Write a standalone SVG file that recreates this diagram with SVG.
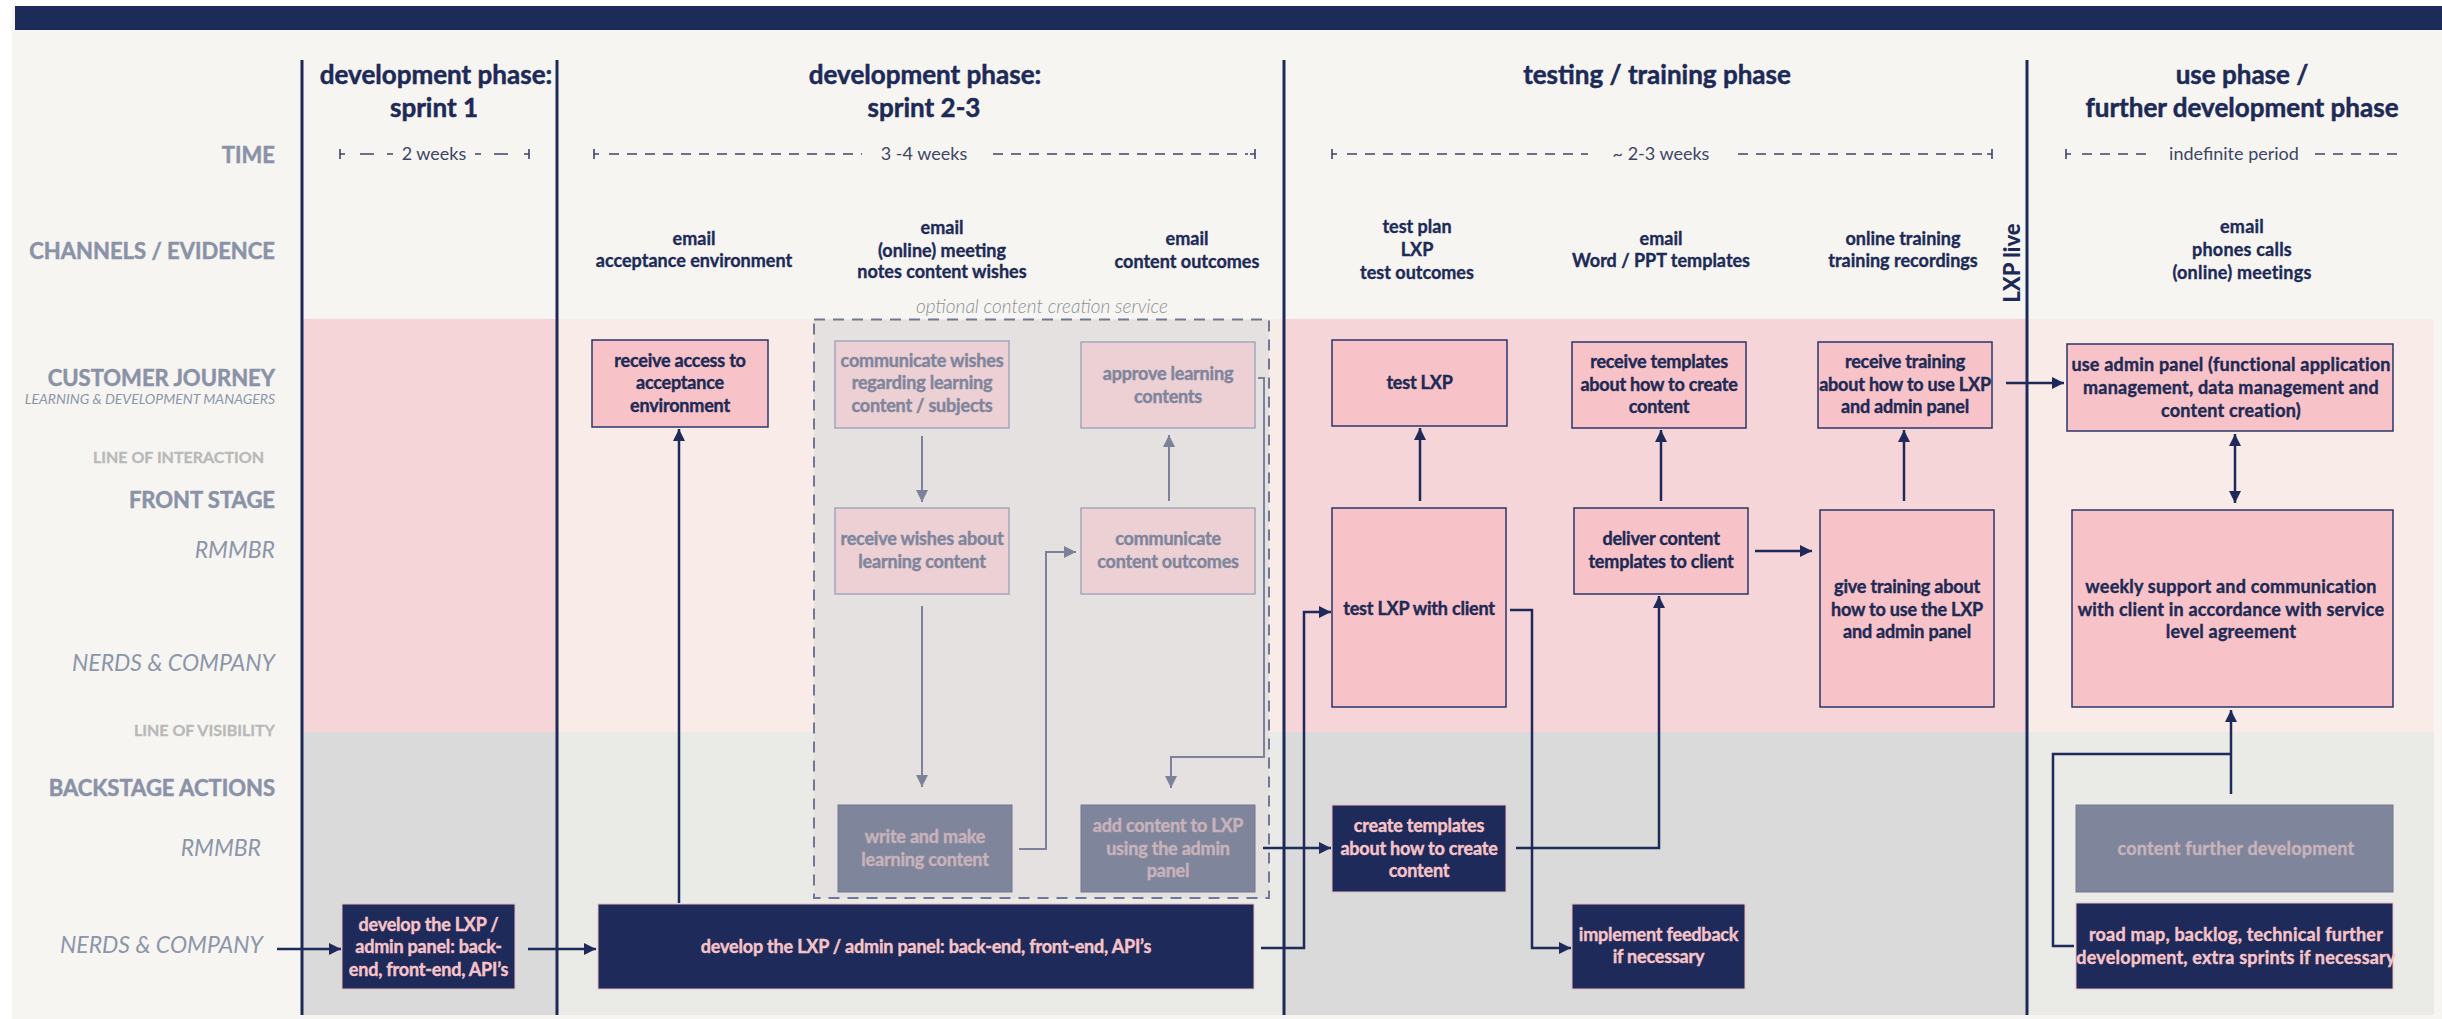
<svg xmlns="http://www.w3.org/2000/svg" width="2442" height="1019" viewBox="0 0 2442 1019">
  <defs>
    <style>
      text { font-family: Lato, "Liberation Sans", sans-serif; }
      .title { font-weight: 700; font-size: 26px; fill: #1d2a57; stroke: #1d2a57; stroke-width: 0.5px; text-anchor: middle; }
      .lab { font-weight: 700; font-size: 22px; fill: #8a92a7; stroke: #8a92a7; stroke-width: 0.5px; text-anchor: end; }
      .labs { font-weight: 700; font-size: 16px; fill: #b9b9b9; stroke: #b9b9b9; stroke-width: 0.3px; text-anchor: end; }
      .labi { font-style: italic; font-weight: 400; font-size: 23px; fill: #8d95a9; text-anchor: end; }
      .labsi { font-style: italic; font-weight: 400; font-size: 14px; fill: #8d95a9; text-anchor: end; }
      .ch { font-weight: 700; font-size: 18px; fill: #1d2a57; stroke: #1d2a57; stroke-width: 0.35px; text-anchor: middle; }
      .tm { font-weight: 400; font-size: 18px; fill: #3d4566; text-anchor: middle; }
      .opt { font-style: italic; font-weight: 300; font-size: 19px; fill: #8e8f96; text-anchor: middle; }
      .live { font-weight: 900; font-size: 22px; fill: #1d2a57; text-anchor: middle; }
      .bx { font-weight: 700; font-size: 18px; text-anchor: middle; letter-spacing: -0.2px; stroke-width: 0.4px; }
      .wide { letter-spacing: 0.2px; }
      .nv rect { fill: #1e2a5a; stroke: #efb9c0; stroke-width: 1; }
      .nv text { fill: #f6c4c8; stroke: #f6c4c8; }
      .pk rect { fill: #f8c3c8; stroke: #2a3668; stroke-width: 1.5; }
      .pk text { fill: #1e2a55; stroke: #1e2a55; }
      .fp rect { fill: #ecd0d3; stroke: #a4a7ba; stroke-width: 1.5; }
      .fp text { fill: #7f859c; stroke: #7f859c; }
      .gb rect { fill: #7f869b; stroke: #6f7890; stroke-width: 1; }
      .gb text { fill: #c8b2bb; stroke: #c8b2bb; }
      .phase { stroke: #1d2a57; stroke-width: 3; }
      .tl { stroke: #3d4566; stroke-width: 1.6; fill: none; }
      .tld { stroke: #3d4566; stroke-width: 1.6; fill: none; stroke-dasharray: 10 8; }
      .c { fill: none; stroke: #1e2a5a; stroke-width: 2.5; }
      .cf { fill: none; stroke: #7b8299; stroke-width: 2; }
    </style>
    <marker id="ah" viewBox="0 0 10 10" refX="10" refY="5" markerWidth="12" markerHeight="12" markerUnits="userSpaceOnUse" orient="auto-start-reverse">
      <path d="M0,0 L10,5 L0,10 z" fill="#1e2a5a"/>
    </marker>
    <marker id="ahf" viewBox="0 0 10 10" refX="10" refY="5" markerWidth="12" markerHeight="12" markerUnits="userSpaceOnUse" orient="auto-start-reverse">
      <path d="M0,0 L10,5 L0,10 z" fill="#7b8299"/>
    </marker>
  </defs>

  <!-- page -->
  <rect x="0" y="0" width="2442" height="1019" fill="#ffffff"/>
  <rect x="12" y="6" width="2430" height="1013" fill="#f6f5f2"/>
  <rect x="15" y="6" width="2427" height="24" fill="#1d2b58"/>

  <!-- swimlane bands per phase column -->
  <rect x="302" y="319" width="255" height="413" fill="#f6d5d9"/>
  <rect x="557" y="319" width="727" height="413" fill="#f9ebe8"/>
  <rect x="1284" y="319" width="743" height="413" fill="#f6d5d9"/>
  <rect x="2027" y="319" width="407" height="413" fill="#f9ebe8"/>
  <rect x="302" y="732" width="255" height="283" fill="#d9dad9"/>
  <rect x="557" y="732" width="727" height="283" fill="#eaeae6"/>
  <rect x="1284" y="732" width="743" height="283" fill="#d9dad9"/>
  <rect x="2027" y="732" width="407" height="283" fill="#eaeae6"/>

  <!-- optional content creation area -->
  <rect x="814" y="319.5" width="455" height="578.5" fill="#e4e1e0" stroke="#6f7894" stroke-width="2" stroke-dasharray="11 8"/>
  <text class="opt" x="1042" y="313">optional content creation service</text>

  <!-- row labels -->
  <text class="lab" x="275" y="163">TIME</text>
  <text class="lab" x="275" y="259">CHANNELS / EVIDENCE</text>
  <text class="lab" x="275" y="386">CUSTOMER JOURNEY</text>
  <text class="labsi" x="275" y="404">LEARNING &amp; DEVELOPMENT MANAGERS</text>
  <text class="labs" x="264" y="463">LINE OF INTERACTION</text>
  <text class="lab" x="275" y="508">FRONT STAGE</text>
  <text class="labi" x="275" y="558">RMMBR</text>
  <text class="labi" x="275" y="671">NERDS &amp; COMPANY</text>
  <text class="labs" x="275" y="736">LINE OF VISIBILITY</text>
  <text class="lab" x="275" y="796">BACKSTAGE ACTIONS</text>
  <text class="labi" x="261" y="856">RMMBR</text>
  <text class="labi" x="263" y="953">NERDS &amp; COMPANY</text>

  <!-- phase headers -->
  <text class="title" x="436" y="84">development phase:</text>
  <text class="title" x="434" y="117">sprint 1</text>
  <text class="title" x="925" y="84">development phase:</text>
  <text class="title" x="924" y="117">sprint 2-3</text>
  <text class="title" x="1657" y="84">testing / training phase</text>
  <text class="title" x="2242" y="84">use phase /</text>
  <text class="title" x="2242" y="117">further development phase</text>

  <!-- time spans -->
  <g id="time-sprint1">
    <path class="tl" d="M340,149 V159 M340,154 H345 M360,154 H374 M387,154 H393 M475,154 H481 M494,154 H508 M529,149 V159 M524,154 H529"/>
    <text class="tm" x="434" y="160">2 weeks</text>
  </g>
  <g id="time-sprint23">
    <path class="tl" d="M594,149 V159 M594,154 H599 M1255,149 V159 M1250,154 H1255"/>
    <path class="tld" d="M609,154 H862 M993,154 H1248"/>
    <text class="tm" x="924" y="160">3 -4 weeks</text>
  </g>
  <g id="time-testing">
    <path class="tl" d="M1332,149 V159 M1332,154 H1337 M1992,149 V159 M1987,154 H1992"/>
    <path class="tld" d="M1347,154 H1588 M1738,154 H1985"/>
    <text class="tm" x="1661" y="160">~ 2-3 weeks</text>
  </g>
  <g id="time-use">
    <path class="tl" d="M2066,149 V159 M2066,154 H2071"/>
    <path class="tld" d="M2082,154 H2152 M2315,154 H2403"/>
    <text class="tm" x="2234" y="160">indefinite period</text>
  </g>

  <!-- channels / evidence -->
  <text class="ch" x="694" y="245">email</text>
  <text class="ch" x="694" y="267">acceptance environment</text>
  <text class="ch" x="942" y="234">email</text>
  <text class="ch" x="942" y="257">(online) meeting</text>
  <text class="ch" x="942" y="278">notes content wishes</text>
  <text class="ch" x="1187" y="245">email</text>
  <text class="ch" x="1187" y="268">content outcomes</text>
  <text class="ch" x="1417" y="233">test plan</text>
  <text class="ch" x="1417" y="256">LXP</text>
  <text class="ch" x="1417" y="279">test outcomes</text>
  <text class="ch" x="1661" y="245">email</text>
  <text class="ch" x="1661" y="267">Word / PPT templates</text>
  <text class="ch" x="1903" y="245">online training</text>
  <text class="ch" x="1903" y="267">training recordings</text>
  <text class="ch wide" x="2242" y="233">email</text>
  <text class="ch wide" x="2242" y="256">phones calls</text>
  <text class="ch wide" x="2242" y="279">(online) meetings</text>
  <text class="live" transform="translate(2020,263) rotate(-90)">LXP live</text>

  <!-- phase separators -->
  <line class="phase" x1="302" y1="60" x2="302" y2="1015"/>
  <line class="phase" x1="557" y1="60" x2="557" y2="1015"/>
  <line class="phase" x1="1284" y1="60" x2="1284" y2="1015"/>
  <line class="phase" x1="2027" y1="60" x2="2027" y2="1015"/>

  <!-- connectors -->
  <g id="connectors">
    <path class="c" d="M277,949 H341" marker-end="url(#ah)"/>
    <path class="c" d="M528,949 H596" marker-end="url(#ah)"/>
    <path class="c" d="M679,903 V429" marker-end="url(#ah)"/>
    <path class="cf" d="M922,436 V502" marker-end="url(#ahf)"/>
    <path class="cf" d="M922,606 V787" marker-end="url(#ahf)"/>
    <path class="cf" d="M1019,849 H1046 V552 H1076" marker-end="url(#ahf)"/>
    <path class="cf" d="M1169,501 V435" marker-end="url(#ahf)"/>
    <path class="cf" d="M1258,378 H1264 V757 H1171 V788" marker-end="url(#ahf)"/>
    <path class="c" d="M1263,848 H1331" marker-end="url(#ah)"/>
    <path class="c" d="M1261,948 H1304 V612 H1331" marker-end="url(#ah)"/>
    <path class="c" d="M1420,501 V428" marker-end="url(#ah)"/>
    <path class="c" d="M1510,610 H1532 V948 H1571" marker-end="url(#ah)"/>
    <path class="c" d="M1516,848 H1659 V596" marker-end="url(#ah)"/>
    <path class="c" d="M1661,501 V430" marker-end="url(#ah)"/>
    <path class="c" d="M1755,551 H1812" marker-end="url(#ah)"/>
    <path class="c" d="M1904,501 V430" marker-end="url(#ah)"/>
    <path class="c" d="M2006,383 H2064" marker-end="url(#ah)"/>
    <path class="c" d="M2235,434 V503" marker-start="url(#ah)" marker-end="url(#ah)"/>
    <path class="c" d="M2231,794 V710" marker-end="url(#ah)"/>
    <path class="c" d="M2074,946 H2053 V754 H2231"/>
  </g>

  <!-- nodes: customer journey -->
  <g id="receive-access" class="pk">
    <rect x="592" y="340" width="176" height="87"/>
    <text class="bx" x="680" y="367">receive access to</text>
    <text class="bx" x="680" y="389">acceptance</text>
    <text class="bx" x="680" y="412">environment</text>
  </g>
  <g id="communicate-wishes" class="fp">
    <rect x="835" y="341" width="174" height="87"/>
    <text class="bx" x="922" y="367">communicate wishes</text>
    <text class="bx" x="922" y="389">regarding learning</text>
    <text class="bx" x="922" y="412">content / subjects</text>
  </g>
  <g id="approve-contents" class="fp">
    <rect x="1081" y="342" width="174" height="86"/>
    <text class="bx" x="1168" y="380">approve learning</text>
    <text class="bx" x="1168" y="403">contents</text>
  </g>
  <g id="test-lxp" class="pk">
    <rect x="1332" y="340" width="175" height="86"/>
    <text class="bx" x="1419.5" y="389">test LXP</text>
  </g>
  <g id="receive-templates" class="pk">
    <rect x="1572" y="342" width="174" height="86"/>
    <text class="bx" x="1659" y="368">receive templates</text>
    <text class="bx" x="1659" y="391">about how to create</text>
    <text class="bx" x="1659" y="413">content</text>
  </g>
  <g id="receive-training" class="pk">
    <rect x="1818" y="342" width="174" height="86"/>
    <text class="bx" x="1905" y="368">receive training</text>
    <text class="bx" x="1905" y="391">about how to use LXP</text>
    <text class="bx" x="1905" y="413">and admin panel</text>
  </g>
  <g id="use-admin-panel" class="pk">
    <rect x="2067" y="344" width="326" height="87"/>
    <text class="bx wide" x="2231" y="371">use admin panel (functional application</text>
    <text class="bx wide" x="2231" y="394">management, data management and</text>
    <text class="bx wide" x="2231" y="417">content creation)</text>
  </g>

  <!-- nodes: front stage -->
  <g id="receive-wishes" class="fp">
    <rect x="835" y="508" width="174" height="86"/>
    <text class="bx" x="922" y="545">receive wishes about</text>
    <text class="bx" x="922" y="568">learning content</text>
  </g>
  <g id="communicate-outcomes" class="fp">
    <rect x="1081" y="508" width="174" height="86"/>
    <text class="bx" x="1168" y="545">communicate</text>
    <text class="bx" x="1168" y="568">content outcomes</text>
  </g>
  <g id="test-lxp-client" class="pk">
    <rect x="1332" y="508" width="174" height="199"/>
    <text class="bx" x="1419" y="615">test LXP with client</text>
  </g>
  <g id="deliver-templates" class="pk">
    <rect x="1574" y="508" width="174" height="86"/>
    <text class="bx" x="1661" y="545">deliver content</text>
    <text class="bx" x="1661" y="568">templates to client</text>
  </g>
  <g id="give-training" class="pk">
    <rect x="1820" y="510" width="174" height="197"/>
    <text class="bx" x="1907" y="593">give training about</text>
    <text class="bx" x="1907" y="616">how to use the LXP</text>
    <text class="bx" x="1907" y="638">and admin panel</text>
  </g>
  <g id="weekly-support" class="pk">
    <rect x="2072" y="510" width="321" height="197"/>
    <text class="bx wide" x="2231" y="593">weekly support and communication</text>
    <text class="bx wide" x="2231" y="616">with client in accordance with service</text>
    <text class="bx wide" x="2231" y="638">level agreement</text>
  </g>

  <!-- nodes: backstage -->
  <g id="write-content" class="gb">
    <rect x="838" y="805" width="174" height="87"/>
    <text class="bx" x="925" y="843">write and make</text>
    <text class="bx" x="925" y="866">learning content</text>
  </g>
  <g id="add-content" class="gb">
    <rect x="1081" y="805" width="174" height="87"/>
    <text class="bx" x="1168" y="832">add content to LXP</text>
    <text class="bx" x="1168" y="855">using the admin</text>
    <text class="bx" x="1168" y="877">panel</text>
  </g>
  <g id="create-templates" class="nv">
    <rect x="1332" y="805" width="174" height="87"/>
    <text class="bx" x="1419" y="832">create templates</text>
    <text class="bx" x="1419" y="855">about how to create</text>
    <text class="bx" x="1419" y="877">content</text>
  </g>
  <g id="content-further-development" class="gb">
    <rect x="2076" y="805" width="317" height="87"/>
    <text class="bx wide" x="2236" y="855">content further development</text>
  </g>
  <g id="develop-sprint1" class="nv">
    <rect x="342" y="904" width="173" height="85"/>
    <text class="bx" x="428.5" y="931">develop the LXP /</text>
    <text class="bx" x="428.5" y="953">admin panel: back-</text>
    <text class="bx" x="428.5" y="976">end, front-end, API’s</text>
  </g>
  <g id="develop-sprint23" class="nv">
    <rect x="598" y="904" width="656" height="85"/>
    <text class="bx" x="926" y="953">develop the LXP / admin panel: back-end, front-end, API’s</text>
  </g>
  <g id="implement-feedback" class="nv">
    <rect x="1572" y="904" width="173" height="85"/>
    <text class="bx" x="1658.5" y="941">implement feedback</text>
    <text class="bx" x="1658.5" y="963">if necessary</text>
  </g>
  <g id="road-map" class="nv">
    <rect x="2076" y="903" width="317" height="86"/>
    <text class="bx wide" x="2236" y="941">road map, backlog, technical further</text>
    <text class="bx wide" x="2236" y="964">development, extra sprints if necessary</text>
  </g>
</svg>
